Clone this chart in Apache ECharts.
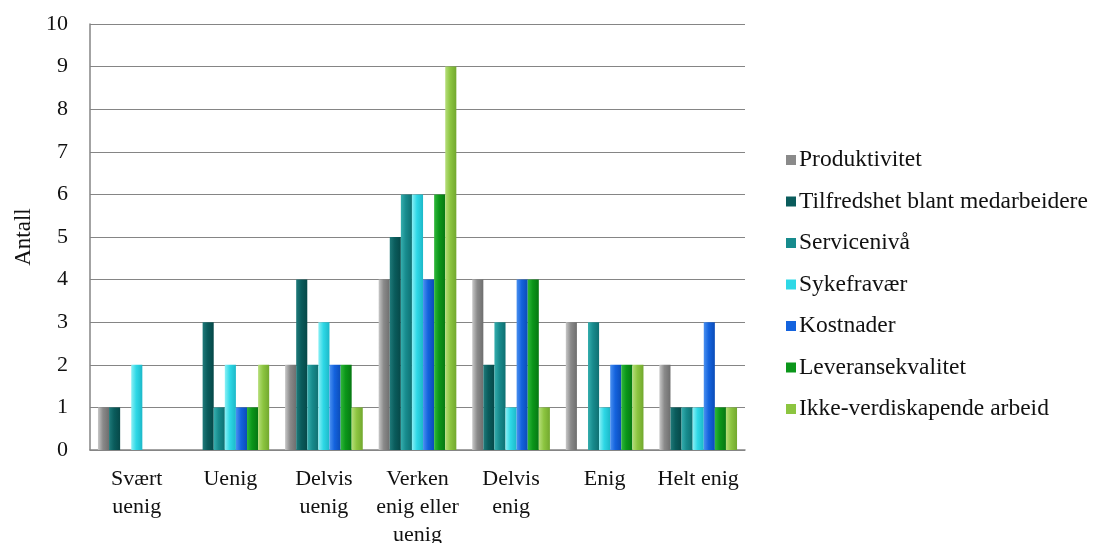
<!DOCTYPE html>
<html>
<head>
<meta charset="utf-8">
<script src="https://cdn.jsdelivr.net/npm/echarts@6/dist/echarts.min.js"></script>
<style>
  html, body { margin: 0; padding: 0; background: #fff; }
  #chart { width: 1096px; height: 543px; }
</style>
</head>
<body>
<div id="chart"></div>
<script>
// Answer categories (x axis)
const categories = ['Svært\nuenig', 'Uenig', 'Delvis\nuenig', 'Verken\nenig eller\nuenig', 'Delvis\nenig', 'Enig', 'Helt enig'];

// Counts per statement
const produktivitet   = [1, 0, 2, 4, 4, 3, 2];
const tilfredshet     = [1, 3, 4, 5, 2, 0, 1];
const serviceniva     = [0, 1, 2, 6, 3, 3, 1];
const sykefravaer     = [2, 2, 3, 6, 1, 1, 1];
const kostnader       = [0, 1, 2, 4, 4, 2, 3];
const leveransekval   = [0, 1, 2, 6, 4, 2, 1];
const ikkeVerdiskap   = [0, 2, 1, 9, 1, 2, 1];

const yTicks = [0, 1, 2, 3, 4, 5, 6, 7, 8, 9, 10];

const seriesDefs = [
  { name: 'Produktivitet', data: produktivitet, c: ['#c8c8c8', '#8a8a8a', '#6e6e6e'] },
  { name: 'Tilfredshet blant medarbeidere', data: tilfredshet, c: ['#1f7a7a', '#0a5c5c', '#064848'] },
  { name: 'Servicenivå', data: serviceniva, c: ['#35aeae', '#178b8d', '#0f7072'] },
  { name: 'Sykefravær', data: sykefravaer, c: ['#8af0f5', '#2ed8e6', '#1cb8c8'] },
  { name: 'Kostnader', data: kostnader, c: ['#4a90f0', '#1463de', '#0b4cb8'] },
  { name: 'Leveransekvalitet', data: leveransekval, c: ['#2fb83a', '#0b961a', '#067812'] },
  { name: 'Ikke-verdiskapende arbeid', data: ikkeVerdiskap, c: ['#b6de7a', '#8cc540', '#72a82e'] }
];

function grad(c) {
  return new echarts.graphic.LinearGradient(0, 0, 1, 0, [
    { offset: 0, color: c[0] },
    { offset: 0.45, color: c[1] },
    { offset: 1, color: c[2] }
  ]);
}

const font = '"Liberation Serif", "Times New Roman", serif';

const chart = echarts.init(document.getElementById('chart'));
chart.setOption({
  animation: false,
  backgroundColor: '#ffffff',
  textStyle: { fontFamily: font },
  grid: { left: 90, right: 351, top: 24, bottom: 93, outerBoundsMode: 'none', containLabel: false },
  legend: {
    orient: 'vertical',
    left: 781,
    top: 143,
    itemWidth: 10,
    itemHeight: 10,
    itemGap: 17.5,
    icon: 'rect',
    textStyle: { fontFamily: font, fontSize: 23.5, color: '#111', lineHeight: 23, padding: [0, 0, 0, -2] },
    data: seriesDefs.map(s => ({ name: s.name, itemStyle: { color: s.c[1] } }))
  },
  xAxis: {
    type: 'category',
    data: categories,
    axisLine: { show: true, lineStyle: { color: '#858585', width: 1.5 } },
    axisTick: { show: false },
    axisLabel: {
      interval: 0,
      color: '#111',
      fontFamily: font,
      fontSize: 22,
      lineHeight: 28,
      margin: 15
    }
  },
  yAxis: {
    type: 'value',
    min: 0,
    max: 10,
    interval: 1,
    name: 'Antall',
    nameLocation: 'middle',
    nameGap: 55,
    nameRotate: 90,
    nameTextStyle: { color: '#111', fontFamily: font, fontSize: 23 },
    axisLine: { show: true, lineStyle: { color: '#858585', width: 1.5 } },
    axisTick: { show: false },
    splitLine: { show: true, lineStyle: { color: '#858585', width: 1.2 } },
    axisLabel: {
      color: '#111',
      fontFamily: font,
      fontSize: 22,
      margin: 22,
      formatter: v => (yTicks.indexOf(v) >= 0 ? String(v) : '')
    }
  },
  series: seriesDefs.map(s => ({
    name: s.name,
    type: 'bar',
    data: s.data,
    barGap: '0%',
    barCategoryGap: '17%',
    itemStyle: { color: grad(s.c) }
  }))
});
</script>
</body>
</html>
